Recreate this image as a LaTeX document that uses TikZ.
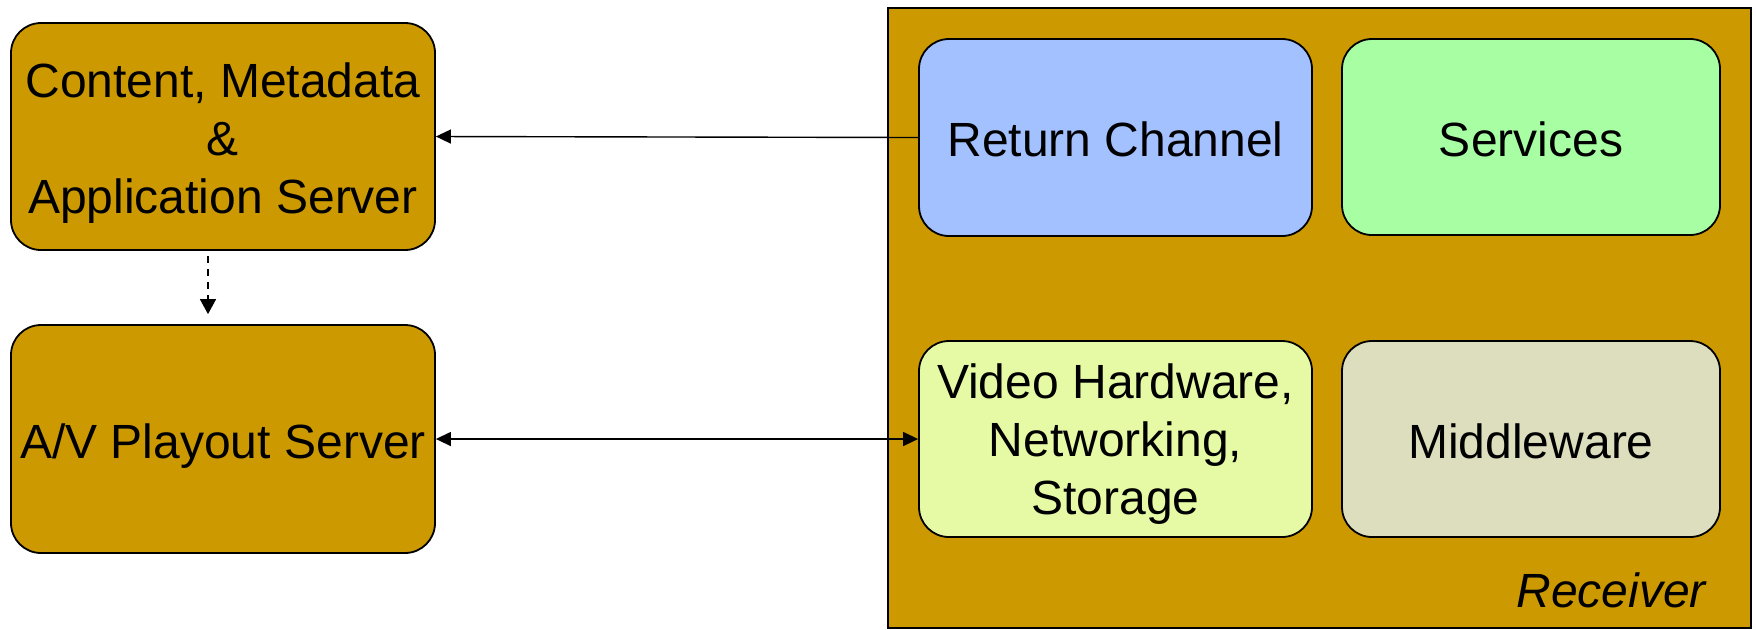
\documentclass[tikz,border=0pt]{standalone}
\usepackage{fontspec}
\setmainfont{Liberation Sans}
\usetikzlibrary{arrows.meta}
\definecolor{gold}{RGB}{204,153,0}
\definecolor{rcblue}{RGB}{163,193,255}
\definecolor{svgreen}{RGB}{168,255,163}
\definecolor{hwyellow}{RGB}{230,250,165}
\definecolor{mwgray}{RGB}{220,222,190}
\tikzset{
  box/.style={draw=black, line width=0.9pt, rounded corners=15pt, inner sep=0pt},
  txt/.style={align=center, font=\fontsize{24}{29}\selectfont, inner sep=0pt},
  conn/.style={line width=0.7pt, -{Triangle[length=7.5pt,width=7pt]}},
  biconn/.style={line width=0.7pt, {Triangle[length=7.5pt,width=7pt]}-{Triangle[length=7.5pt,width=7pt]}},
  dashconn/.style={line width=0.7pt, dash pattern=on 3.5pt off 3pt, -{Triangle[length=7.5pt,width=8pt]}}
}
\begin{document}
\begin{tikzpicture}[x=0.5pt,y=-0.5pt]
\useasboundingbox (0,0) rectangle (1756,629);
% receiver frame
\draw[fill=gold, line width=0.8pt] (888,8) rectangle (1751,628);
\node[anchor=base east, font=\fontsize{24}{28.5}\selectfont\itshape] (rlab) at (1713,607) {Receiver};
% left servers
\node[box, fill=gold, minimum width=212pt, minimum height=113.5pt] (cms) at (223,136.5) {};
\node[txt] (cmst) at ([yshift=-3.5pt]cms.center) {Content, Metadata\\\&\\Application Server};
\node[box, fill=gold, minimum width=212pt, minimum height=114pt] (av) at (223,439) {};
\node[txt] (avt) at ([yshift=-3.5pt]av.center) {A/V Playout Server};
% receiver components
\node[box, fill=rcblue, minimum width=196.5pt, minimum height=98.5pt] (ret) at (1115.5,137.5) {};
\node[txt] (rett) at ([yshift=-1pt]ret.center) {Return Channel};
\node[box, fill=svgreen, minimum width=189pt, minimum height=98pt] (svc) at (1531,137) {};
\node[txt] (svct) at ([yshift=-1pt]svc.center) {Services};
\node[box, fill=hwyellow, minimum width=196.5pt, minimum height=98pt] (vhw) at (1115.5,439) {};
\node[txt] (vhwt) at ([yshift=-2.5pt]vhw.center) {Video Hardware,\\Networking,\\Storage};
\node[box, fill=mwgray, minimum width=189pt, minimum height=98pt] (mid) at (1531,439) {};
\node[txt] (midt) at ([yshift=-1pt]mid.center) {Middleware};
% connectors
\draw[conn] (ret.west) -- (cms.east);
\draw[biconn] (av.east) -- (vhw.west);
\draw[dashconn] ([xshift=-7.5pt,yshift=-2.5pt]cms.south) -- ([xshift=-7.5pt,yshift=5pt]av.north);
\end{tikzpicture}
\end{document}
